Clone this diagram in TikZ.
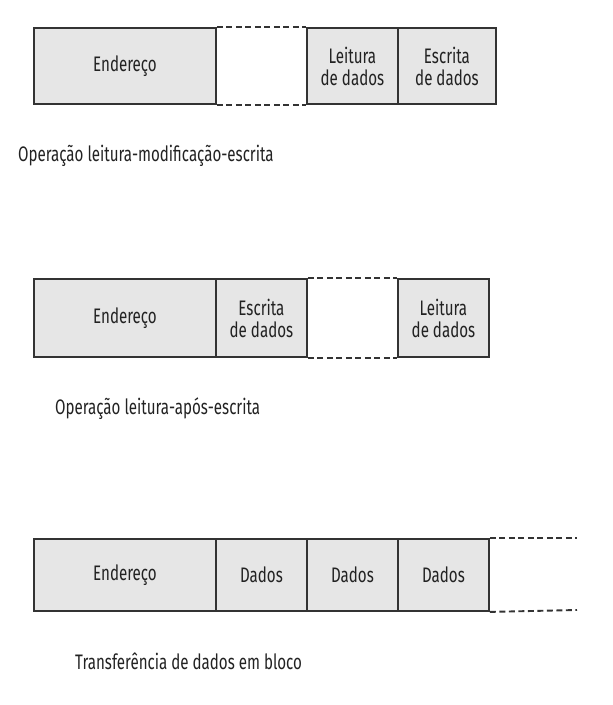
\documentclass[tikz,border=0pt]{standalone}
\usepackage{fontspec}
\setmainfont{Fira Sans}[FakeStretch=0.72]
\definecolor{boxfill}{HTML}{E6E6E6}
\definecolor{boxline}{HTML}{333333}
\definecolor{txt}{HTML}{222222}
\tikzset{
  cell/.style={draw=boxline, fill=boxfill, line width=1.9pt, rectangle, anchor=north west,
    inner sep=0pt, align=center, text=txt, font=\fontsize{21}{22}\selectfont},
  gap/.style={draw=boxline, line width=1.9pt, dash pattern=on 6pt off 3.5pt},
  caption/.style={anchor=west, inner sep=0pt, text=txt, font=\fontsize{21}{22}\selectfont}
}
\begin{document}
\begin{tikzpicture}[x=1pt,y=-1pt]
\useasboundingbox (0,0) rectangle (613,705);
% diagram 1
\node[cell, minimum width=182pt, minimum height=76pt] (a1) at (33,27) {Endereço};
\node[cell, minimum width=91pt, minimum height=76pt] (a3) at (306,27) {Leitura\\de dados};
\node[cell, minimum width=98pt, minimum height=76pt] (a4) at (397,27) {Escrita\\de dados};
\draw[gap] (a1.north east) -- (a3.north west);
\draw[gap] (a1.south east) -- (a3.south west);
\node[caption] (c1) at (18,156) {Operação leitura-modificação-escrita};
% diagram 2
\node[cell, minimum width=182pt, minimum height=78pt] (b1) at (33,278) {Endereço};
\node[cell, minimum width=91pt, minimum height=78pt] (b2) at (215,278) {Escrita\\de dados};
\node[cell, minimum width=91pt, minimum height=78pt] (b4) at (397,278) {Leitura\\de dados};
\draw[gap] (b2.north east) -- (b4.north west);
\draw[gap] (b2.south east) -- (b4.south west);
\node[caption] (c2) at (55,409) {Operação leitura-após-escrita};
% diagram 3
\node[cell, minimum width=182pt, minimum height=72pt] (d1) at (33,538) {Endereço};
\node[cell, minimum width=91pt, minimum height=72pt] (d2) at (215,538) {Dados};
\node[cell, minimum width=91pt, minimum height=72pt] (d3) at (306,538) {Dados};
\node[cell, minimum width=91pt, minimum height=72pt] (d4) at (397,538) {Dados};
\coordinate (t1) at (577,538);
\coordinate (t2) at (577,610);
\draw[gap] (d4.north east) -- (t1);
\draw[gap] (d4.south east) -- (t2);
\node[caption] (c3) at (75,661) {Transferência de dados em bloco};
\end{tikzpicture}
\end{document}
